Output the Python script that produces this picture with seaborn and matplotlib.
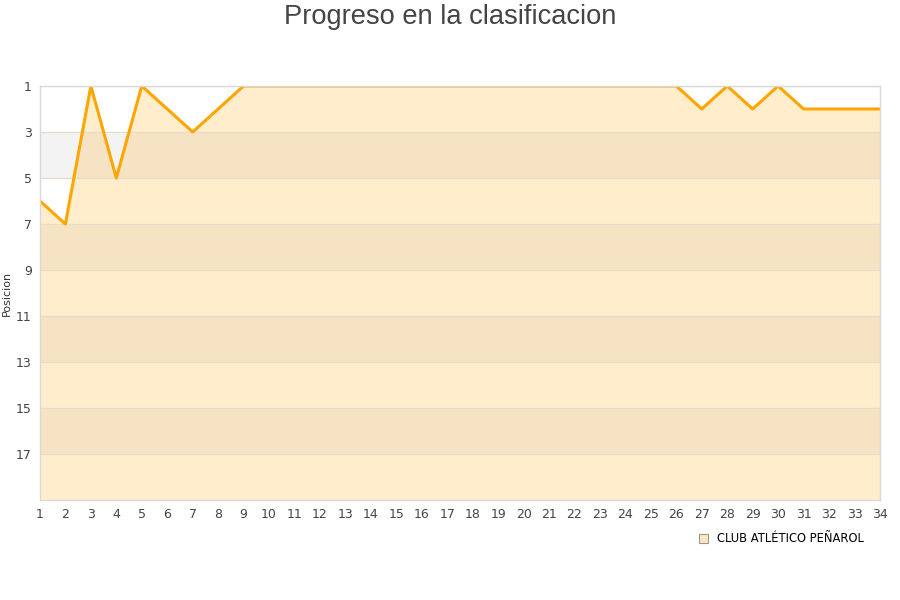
import matplotlib
matplotlib.use('Agg')
import matplotlib.pyplot as plt
import seaborn as sns
import pandas as pd
from matplotlib.patches import Patch

# Datos: posicion por fecha
fechas = list(range(1, 35))
posiciones = [6, 7, 1, 5, 1, 2, 3, 2, 1, 1, 1, 1, 1, 1, 1, 1, 1,
              1, 1, 1, 1, 1, 1, 1, 1, 1, 2, 1, 2, 1, 2, 2, 2, 2]
equipo = 'CLUB ATLÉTICO PEÑAROL'
yticks = list(range(1, 18, 2))

df = pd.DataFrame({'fecha': fechas, 'posicion': posiciones})

sns.set_style('white')
plt.rcParams['font.family'] = ['DejaVu Sans']

fig = plt.figure(figsize=(9, 6), dpi=100)
ax = fig.add_axes([0.0444, 0.1667, 0.9333, 0.69])

# area bajo la linea
area = ax.fill_between(df['fecha'], df['posicion'], 19, color='#ffedcc',
                       lw=0, zorder=1)

# bandas alternas: gris fuera del area, tostado dentro
for i, y0 in enumerate(range(1, 19, 2)):
    if i % 2 == 1:
        ax.axhspan(y0, y0 + 2, color='#f3f3f3', zorder=0, lw=0)
        band = ax.axhspan(y0, y0 + 2, color='#f5e3c3', zorder=1.2, lw=0)
        band.set_clip_path(area.get_paths()[0], ax.transData)
    ax.axhline(y0, color='#e6dcc8', lw=0.9, zorder=1.4)

sns.lineplot(data=df, x='fecha', y='posicion', color='#ffa500', lw=2.2, ax=ax,
             zorder=2)

ax.set_xlim(1, 34)
ax.set_ylim(19, 1)
ax.set_xticks(fechas)
ax.set_yticks(yticks)
ax.tick_params(axis='both', labelsize=9, colors='#444444', length=0, pad=6)
ax.set_xlabel('')
ax.set_ylabel('Posicion', fontsize=8, color='#333333', labelpad=3)
for s in ax.spines.values():
    s.set_color('#d8d8d8')
    s.set_linewidth(1)

fig.suptitle('Progreso en la clasificacion', y=0.993, fontsize=19.6,
             color='#444444', family=['Liberation Sans', 'DejaVu Sans'])

handle = Patch(facecolor='#ffe7bf', edgecolor='#999999', lw=0.8)
fig.legend([handle], [equipo], loc='center', bbox_to_anchor=(0.868, 0.102),
           frameon=False, fontsize=8.3, handlelength=0.8, handleheight=0.8,
           handletextpad=0.8, labelcolor='black')

fig.savefig('out.png', dpi=100)
